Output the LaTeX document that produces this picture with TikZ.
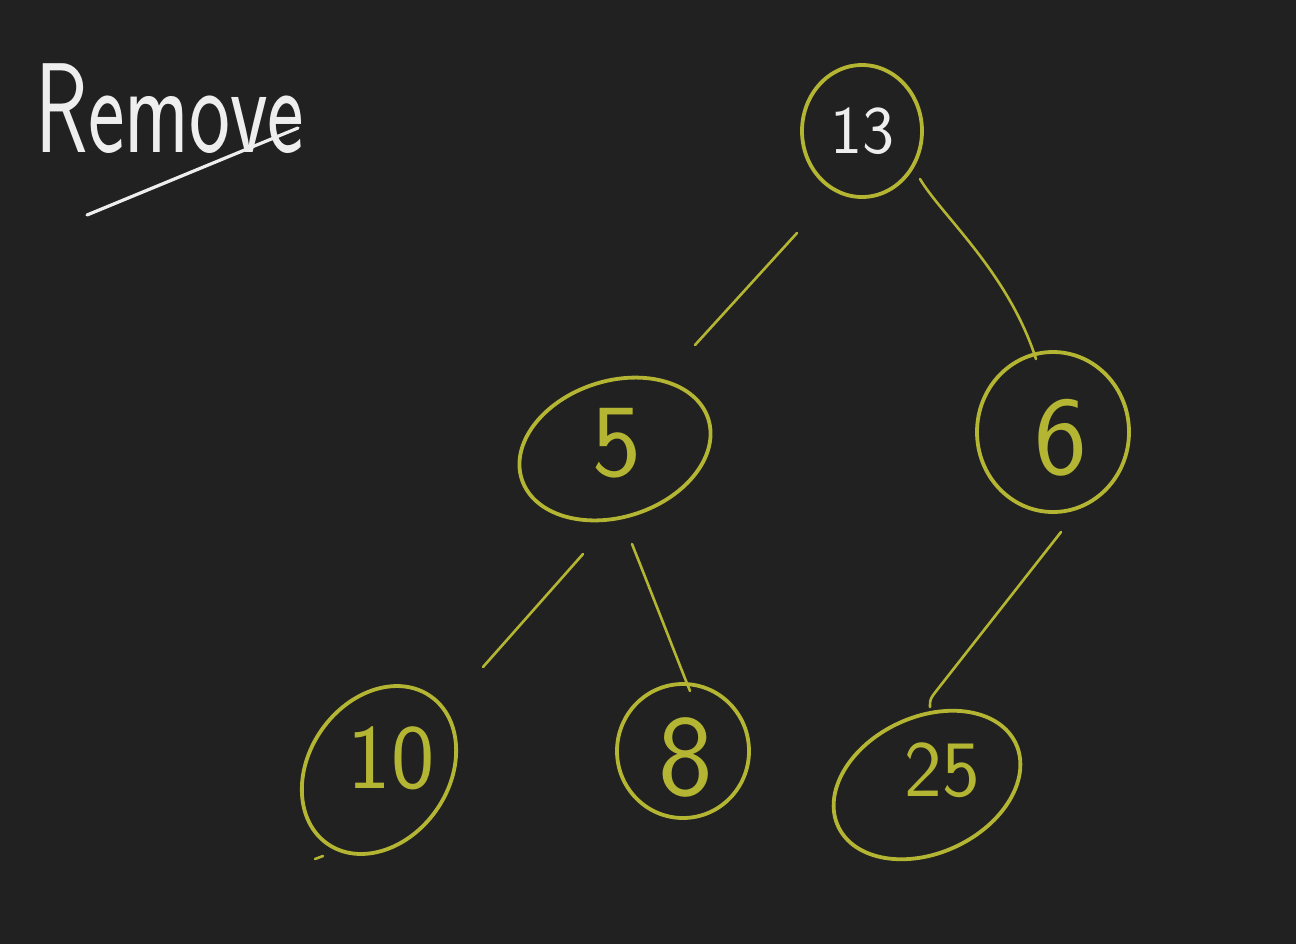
\documentclass[tikz,border=0pt]{standalone}
\usepackage{fontspec}
\usetikzlibrary{shapes.geometric,calc}
\definecolor{bg}{HTML}{212121}
\definecolor{ink}{HTML}{B4B532}
\definecolor{chalk}{HTML}{EEEEEE}
\tikzset{
  vtx/.style={ellipse, draw=ink, line width=1.9pt, inner sep=0pt},
  lbl/.style={font=\sffamily\fontsize{#1}{#1}\selectfont, inner sep=0pt},
  edge/.style={draw=ink, line width=1.3pt, line cap=round},
}
\begin{document}
\begin{tikzpicture}[x=0.5pt,y=-0.5pt]
\fill[bg] (0,0) rectangle (1296,944);
\useasboundingbox (0,0) rectangle (1296,944);
% nodes
\node[vtx, minimum width=60pt, minimum height=66pt] (n13) at (862,131) {};
\node[vtx, minimum width=98pt, minimum height=68pt, rotate=18] (n5) at (615,449) {};
\node[vtx, minimum width=76pt, minimum height=80pt] (n6) at (1053,432) {};
\node[vtx, minimum width=90pt, minimum height=70pt, rotate=55] (n10) at (379,770) {};
\node[vtx, minimum width=66pt, minimum height=67pt] (n8) at (683,751) {};
\node[vtx, minimum width=98pt, minimum height=68pt, rotate=25] (n25) at (927,785) {};
% labels
\node[lbl=34, text=chalk] (t13) at (n13) {13};
\node[lbl=52, text=ink] (t5) at ($(n5)+(2,-6)$) {5};
\node[lbl=56, text=ink] (t6) at ($(n6)+(8,6)$) {6};
\node[lbl=46, text=ink] (t10) at ($(n10)+(12,-12)$) {10};
\node[lbl=58, text=ink] (t8) at ($(n8)+(3,6)$) {8};
\node[lbl=40, text=ink] (t25) at ($(n25)+(15,-15)$) {25};
\node[lbl=64, text=chalk, anchor=base west, xscale=0.68] (title) at (35,152) {Remove};
% underline
\draw[chalk, line width=1.6pt, line cap=round] ($(title.base west)+(52,63)$) -- ($(title.base west)+(263,-24)$);
% stray mark under 10
\draw[ink, line width=1.3pt, line cap=round] ($(n10)+(-64,89)$) -- ($(n10)+(-56,86)$);
% edges
\draw[edge] ($(n13)+(-65,102)$) -- ($(n5)+(80,-104)$);
\draw[edge] ($(n13)+(58,48)$) .. controls ($(n13)+(80,85)$) and ($(n6)+(-45,-160)$) .. ($(n6)+(-17,-73)$);
\draw[edge] ($(n5)+(-32,105)$) -- ($(n10)+(104,-103)$);
\draw[edge] ($(n5)+(17,95)$) .. controls ($(n5)+(35,140)$) and ($(n8)+(-5,-90)$) .. ($(n8)+(7,-60)$);
\draw[edge] ($(n6)+(8,100)$) -- ($(n25)+(10,-95)$) .. controls ($(n25)+(3,-86)$) .. ($(n25)+(3,-78)$);
\end{tikzpicture}
\end{document}
